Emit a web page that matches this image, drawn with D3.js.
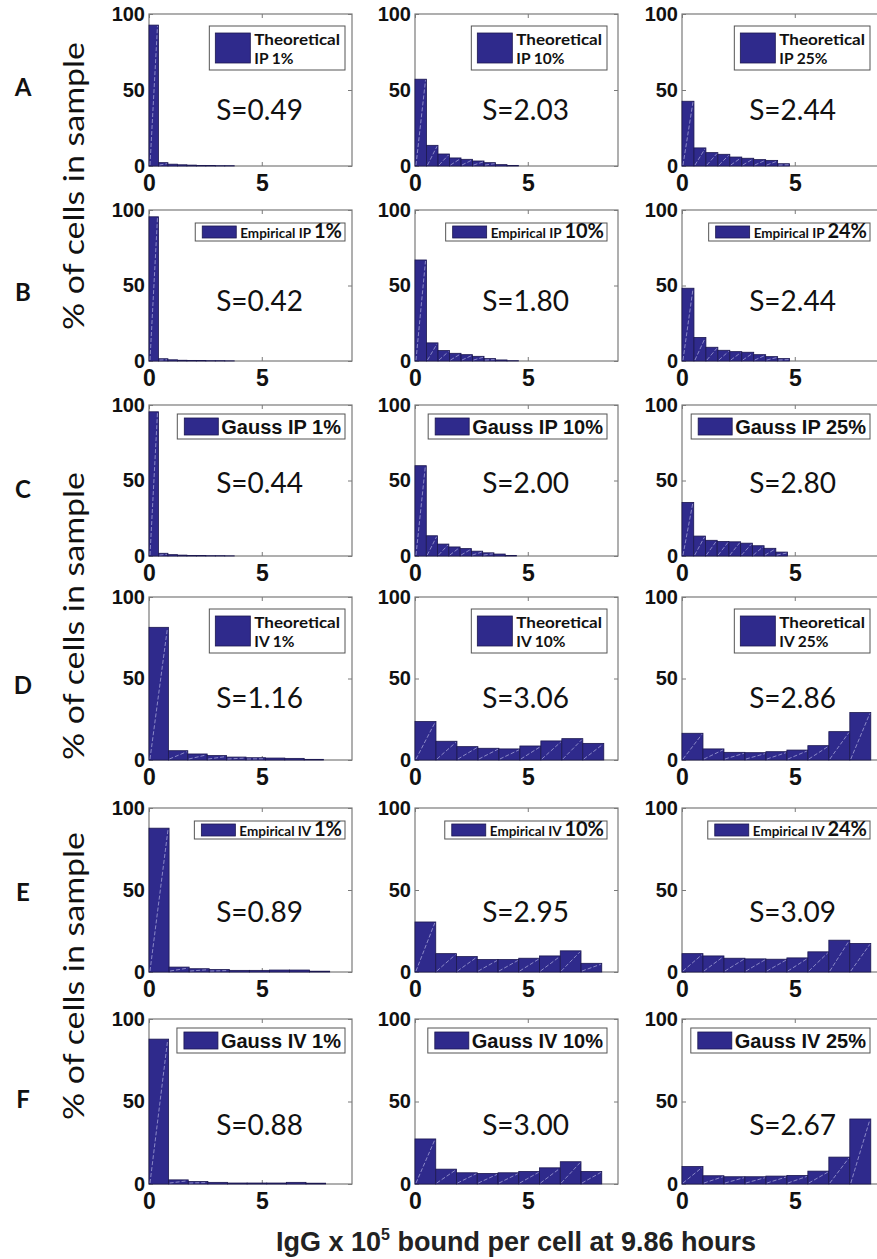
<!DOCTYPE html>
<html>
<head>
<meta charset="utf-8">
<script src="https://cdn.jsdelivr.net/npm/d3@7/dist/d3.min.js"></script>
<style>
  html, body { margin: 0; padding: 0; background: #fff; }
  svg { display: block; }
</style>
</head>
<body>
<svg id="chart" width="877" height="1259"></svg>
<script>
// ---------------- DATA ----------------
const rowLetters = ["A", "B", "C", "D", "E", "F"];
const legendKind = ["theoretical", "empirical", "gauss", "theoretical", "empirical", "gauss"];
const routes = ["IP", "IP", "IP", "IV", "IV", "IV"];
const percents = [
  ["1%", "10%", "25%"],
  ["1%", "10%", "24%"],
  ["1%", "10%", "25%"],
  ["1%", "10%", "25%"],
  ["1%", "10%", "24%"],
  ["1%", "10%", "25%"]
];
const sValues = [
  ["0.49", "2.03", "2.44"],
  ["0.42", "1.80", "2.44"],
  ["0.44", "2.00", "2.80"],
  ["1.16", "3.06", "2.86"],
  ["0.89", "2.95", "3.09"],
  ["0.88", "3.00", "2.67"]
];
// bin width (IgG x 1e5) of each histogram, bins start at 0
const binWidths = [
  [0.42, 0.51, 0.53],
  [0.42, 0.51, 0.53],
  [0.42, 0.50, 0.52],
  [0.86, 0.93, 0.93],
  [0.89, 0.92, 0.93],
  [0.87, 0.92, 0.93]
];
// % of cells per bin
const rowA = [
  [92.7, 2.2, 1.2, 0.8, 0.6, 0.4, 0.3, 0.2, 0.2],
  [57.1, 13.6, 7.9, 5.3, 4.4, 3.3, 2.2, 0.9, 0.4],
  [42.6, 11.9, 8.8, 7.7, 5.9, 5.1, 4.2, 3.7, 1.5]
];
const rowB = [
  [95.5, 1.5, 0.8, 0.5, 0.4, 0.3, 0.2, 0.2, 0.1],
  [66.9, 12.0, 6.9, 5.1, 4.2, 3.1, 1.6, 0.7, 0.2],
  [48.2, 15.6, 9.1, 7.1, 6.2, 5.8, 4.2, 2.9, 1.6]
];
const rowC = [
  [95.5, 1.8, 0.9, 0.6, 0.4, 0.3, 0.2, 0.2, 0.1],
  [59.8, 13.4, 7.9, 6.0, 4.9, 3.2, 2.1, 1.3, 0.4],
  [35.5, 13.2, 10.4, 9.6, 9.4, 8.5, 6.8, 5.1, 2.6]
];
const rowD = [
  [81.4, 5.7, 3.7, 2.7, 1.8, 1.4, 1.2, 1.0, 0.4],
  [23.6, 11.5, 8.2, 7.2, 6.8, 8.6, 11.7, 13.1, 10.2],
  [16.4, 6.8, 4.7, 4.5, 5.1, 6.1, 8.8, 17.4, 29.1]
];
const rowE = [
  [87.7, 3.0, 2.0, 1.5, 1.0, 1.0, 1.2, 1.2, 0.5],
  [30.5, 11.2, 9.4, 7.6, 7.6, 8.4, 9.8, 12.9, 5.3],
  [11.2, 9.8, 8.4, 8.0, 7.8, 8.6, 12.3, 19.4, 17.4]
];
const rowF = [
  [87.8, 2.5, 1.5, 1.0, 0.6, 0.6, 0.6, 1.0, 0.5],
  [27.3, 9.0, 6.8, 6.4, 6.8, 7.6, 9.8, 13.5, 7.6],
  [10.6, 5.0, 4.4, 4.4, 4.8, 5.2, 7.8, 16.3, 39.4]
];
const histData = [rowA, rowB, rowC, rowD, rowE, rowF];
const xTicks = [0, 5];
const yTicks = [0, 50, 100];
const xDomain = [0, 9];
const yDomain = [0, 100];
const yTitle = "% of cells in sample";

// ---------------- LAYOUT ----------------
const colX = [149, 415, 682];
const plotW = 203;
const legendRight = [196, 192, 188];
const rowTop = [14, 210, 405, 597, 808, 1019];
const rowH = [152, 151, 151, 163, 164, 165];
const letterY = [96, 301, 498, 694, 901, 1108];
const yTitleCenters = [186, 616, 976];
const sLabelY = [30, 33, 42, 32, 30.5, 30]; // data-space y of S label baseline
const barFill = "#2f2a8c";
const axisColor = "#7a7a7a";

const svg = d3.select("#chart");
svg.append("rect").attr("width", 877).attr("height", 1259).attr("fill", "#fff");

histData.forEach((row, r) => {
  row.forEach((vals, c) => {
    const x0 = colX[c], y0 = rowTop[r], h = rowH[r];
    const x = d3.scaleLinear().domain(xDomain).range([x0, x0 + plotW]);
    const y = d3.scaleLinear().domain(yDomain).range([y0 + h, y0]);
    const g = svg.append("g");

    g.append("rect").attr("x", x0).attr("y", y0).attr("width", plotW).attr("height", h)
      .attr("fill", "#fff").attr("stroke", axisColor).attr("stroke-width", 1.2);

    const ax = (sel) => {
      sel.select(".domain").remove();
      sel.selectAll(".tick line").attr("stroke", axisColor).attr("stroke-width", 1);
    };
    g.append("g").attr("transform", `translate(0,${y0 + h})`)
      .call(d3.axisBottom(x).tickValues(xTicks).tickSizeInner(-4).tickSizeOuter(0).tickPadding(8))
      .call(ax)
      .call(s => s.selectAll("text").attr("font-family", "Liberation Sans, Arial, sans-serif")
        .attr("font-weight", "bold").attr("font-size", 23).attr("fill", "#111").attr("dy", "0.72em"));
    g.append("g").attr("transform", `translate(${x0},0)`)
      .call(d3.axisLeft(y).tickValues(yTicks).tickSizeInner(-4).tickSizeOuter(0).tickPadding(4))
      .call(ax)
      .call(s => s.selectAll("text").attr("font-family", "Liberation Sans, Arial, sans-serif")
        .attr("font-weight", "bold").attr("font-size", 20).attr("fill", "#111"));
    g.append("g").attr("transform", `translate(0,${y0})`)
      .call(d3.axisTop(x).tickValues(xTicks).tickSizeInner(-4).tickSizeOuter(0).tickFormat(""))
      .call(ax);
    g.append("g").attr("transform", `translate(${x0 + plotW},0)`)
      .call(d3.axisRight(y).tickValues(yTicks).tickSizeInner(-4).tickSizeOuter(0).tickFormat(""))
      .call(ax);

    const w = binWidths[r][c];
    const bins = vals.map((v, i) => ({ a: i * w, b: (i + 1) * w, v }));
    g.selectAll("rect.bar").data(bins).join("rect").attr("class", "bar")
      .attr("x", d => x(d.a)).attr("width", d => x(d.b) - x(d.a))
      .attr("y", d => y(d.v)).attr("height", d => y(0) - y(d.v))
      .attr("fill", barFill).attr("stroke", "#1c1850").attr("stroke-width", 0.8);
    g.selectAll("line.diag").data(bins.filter(d => y(0) - y(d.v) > 2)).join("line").attr("class", "diag")
      .attr("x1", d => x(d.a) + 1).attr("y1", y(0) - 1)
      .attr("x2", d => x(d.b) - 1).attr("y2", d => y(d.v) + 1)
      .attr("stroke", "#c8c8ee").attr("stroke-opacity", 0.75).attr("stroke-width", 0.8)
      .attr("stroke-dasharray", "4,2");

    g.append("text").attr("x", x(4.9)).attr("y", y(sLabelY[r]))
      .attr("text-anchor", "middle").attr("font-family", "Lato, 'Open Sans', sans-serif")
      .attr("font-size", 28).attr("fill", "#111").text("S=" + sValues[r][c]);

    const kind = legendKind[r];
    const right = x0 + legendRight[c];
    const lg = g.append("g");
    if (kind === "theoretical") {
      const top = y0 + 12;
      const t = lg.append("text").attr("font-family", "Lato, sans-serif").attr("font-weight", "bold")
        .attr("font-size", 15.5).attr("fill", "#111");
      const t1 = t.append("tspan").text("Theoretical");
      const t2 = t.append("tspan").text(routes[r] + " " + percents[r][c]);
      const tw1 = t1.node().getComputedTextLength() * 1.1;
      t1.attr("textLength", tw1).attr("lengthAdjust", "spacingAndGlyphs");
      const tw = Math.max(tw1, t2.node().getComputedTextLength());
      const bw = 6 + 35 + 4 + tw + 5;
      const left = right - bw;
      lg.insert("rect", "text").attr("x", left).attr("y", top).attr("width", bw).attr("height", 44)
        .attr("fill", "#fff").attr("stroke", "#555").attr("stroke-width", 1);
      lg.insert("rect", "text").attr("x", left + 6).attr("y", top + 7).attr("width", 35).attr("height", 30)
        .attr("fill", barFill).attr("stroke", "#1c1850").attr("stroke-width", 0.8);
      t1.attr("x", left + 45).attr("y", top + 19);
      t2.attr("x", left + 45).attr("y", top + 37.8);
    } else if (kind === "empirical") {
      const top = y0 + 13;
      const t = lg.append("text").attr("font-family", "Lato, sans-serif").attr("font-weight", "bold")
        .attr("fill", "#111");
      t.append("tspan").attr("font-size", 13.5).text("Empirical " + routes[r] + " ");
      t.append("tspan").attr("font-size", 20).text(percents[r][c]);
      const tw = t.node().getComputedTextLength();
      const bw = 7 + 34 + 4 + tw + 3;
      const left = right - bw;
      lg.insert("rect", "text").attr("x", left).attr("y", top).attr("width", bw).attr("height", 18)
        .attr("fill", "#fff").attr("stroke", "#555").attr("stroke-width", 1);
      lg.insert("rect", "text").attr("x", left + 7).attr("y", top + 3).attr("width", 34).attr("height", 12)
        .attr("fill", barFill).attr("stroke", "#1c1850").attr("stroke-width", 0.8);
      t.attr("x", left + 45).attr("y", top + 15);
    } else {
      const top = y0 + 9;
      const t = lg.append("text").attr("font-family", "Liberation Sans, Arial, sans-serif")
        .attr("font-weight", "bold").attr("font-size", 20).attr("fill", "#111")
        .text("Gauss " + routes[r] + " " + percents[r][c]);
      const tw = t.node().getComputedTextLength();
      const bw = 7 + 34 + 3 + tw + 4;
      const left = right - bw;
      lg.insert("rect", "text").attr("x", left).attr("y", top).attr("width", bw).attr("height", 25)
        .attr("fill", "#fff").attr("stroke", "#555").attr("stroke-width", 1);
      lg.insert("rect", "text").attr("x", left + 7).attr("y", top + 4).attr("width", 34).attr("height", 17)
        .attr("fill", barFill).attr("stroke", "#1c1850").attr("stroke-width", 0.8);
      t.attr("x", left + 44).attr("y", top + 20);
    }
  });

  svg.append("text").attr("x", 23).attr("y", letterY[r])
    .attr("text-anchor", "middle").attr("font-family", "Lato, sans-serif").attr("font-weight", "bold")
    .attr("font-size", 24).attr("fill", "#111").text(rowLetters[r]);
});

yTitleCenters.forEach(cy => {
  svg.append("text").attr("transform", `translate(84,${cy}) rotate(-90)`)
    .attr("text-anchor", "middle").attr("font-family", "Lato, 'Open Sans', sans-serif")
    .attr("font-size", 28).attr("textLength", 288).attr("lengthAdjust", "spacingAndGlyphs")
    .attr("fill", "#111").text(yTitle);
});

const xt = svg.append("text").attr("x", 516).attr("y", 1251).attr("text-anchor", "middle")
  .attr("font-family", "Liberation Sans, Arial, sans-serif").attr("font-weight", "bold")
  .attr("font-size", 27).attr("fill", "#222");
xt.append("tspan").text("IgG x 10");
xt.append("tspan").attr("font-size", 16).attr("dy", -11).text("5");
xt.append("tspan").attr("dy", 11).text(" bound per cell at 9.86 hours");
</script>
</body>
</html>
